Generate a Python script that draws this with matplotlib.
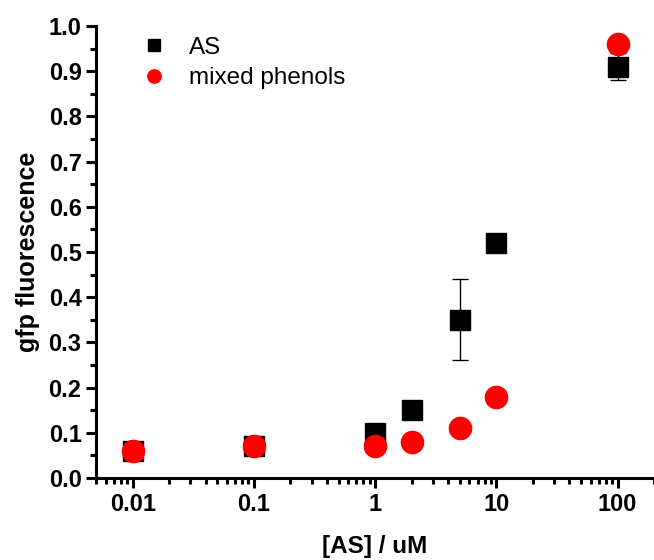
import matplotlib
matplotlib.use("Agg")
import matplotlib.pyplot as plt
from matplotlib.ticker import MultipleLocator, LogLocator, FixedLocator, FixedFormatter

plt.rcParams['font.family'] = ['Liberation Sans', 'DejaVu Sans']

# data
conc = [0.01, 0.1, 1, 2, 5, 10, 100]
as_vals = [0.06, 0.07, 0.10, 0.15, 0.35, 0.52, 0.91]
as_err = [0.005, 0.012, 0.005, 0.005, 0.09, 0.005, 0.03]
mixed_vals = [0.06, 0.07, 0.07, 0.08, 0.11, 0.18, 0.96]
mixed_err = [0.0, 0.0, 0.0, 0.0, 0.0, 0.0, 0.0]

xticks = [0.01, 0.1, 1, 10, 100]
xticklabels = ['0.01', '0.1', '1', '10', '100']

fig = plt.figure(figsize=(6.54, 5.6), dpi=100)
ax = fig.add_axes([0.147, 0.1464, 0.853, 0.8072])

ax.errorbar(conc, as_vals, yerr=as_err, fmt='s', color='black', ms=14.5,
            ecolor='black', elinewidth=1, capsize=6, capthick=1, label='AS')
ax.errorbar(conc, mixed_vals, yerr=mixed_err, fmt='o', color='red', ms=16,
            ecolor='red', elinewidth=1, capsize=0, label='mixed phenols')

ax.set_xscale('log')
ax.set_xlim(0.005, 200)
ax.set_ylim(0, 1.0)

ax.xaxis.set_major_locator(FixedLocator(xticks))
ax.xaxis.set_major_formatter(FixedFormatter(xticklabels))
ax.xaxis.set_minor_locator(LogLocator(base=10, subs=range(2, 10)))
ax.xaxis.set_minor_formatter(FixedFormatter([]))
ax.yaxis.set_major_locator(MultipleLocator(0.1))
ax.yaxis.set_minor_locator(MultipleLocator(0.05))
ax.yaxis.set_major_formatter(plt.FormatStrFormatter('%.1f'))

ax.spines['top'].set_visible(False)
ax.spines['right'].set_visible(False)
for s in ['left', 'bottom']:
    ax.spines[s].set_linewidth(2.2)

ax.tick_params(which='major', direction='out', length=7, width=2.2)
ax.tick_params(which='minor', direction='out', length=4, width=2.2)
for lab in ax.get_xticklabels() + ax.get_yticklabels():
    lab.set_fontsize(17)
    lab.set_fontweight('bold')

ax.set_xlabel('[AS] / uM', fontsize=17.5, fontweight='bold', labelpad=14)
ax.set_ylabel('gfp fluorescence', fontsize=18, fontweight='bold', labelpad=6)

handles, labels = ax.get_legend_handles_labels()
handles = [h[0] for h in handles]
leg = ax.legend(handles, labels, loc='upper left', bbox_to_anchor=(0.038, 1.025),
                frameon=False, fontsize=17.5, markerscale=0.6, handletextpad=0.85,
                labelspacing=0.35, handlelength=1.2)

fig.savefig('out.png', dpi=100)
